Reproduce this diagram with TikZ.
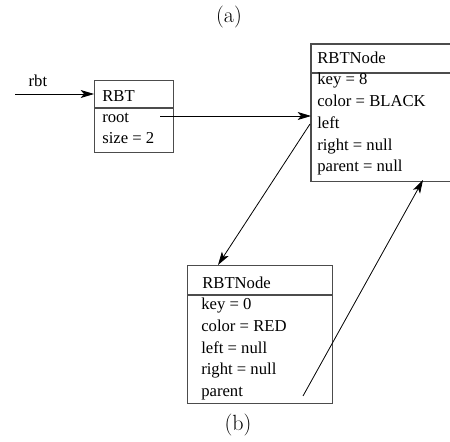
\documentclass[tikz,border=0pt]{standalone}
\usepackage{fontspec}
\newfontfamily\boxfont{Liberation Serif}
\usetikzlibrary{arrows.meta}

\tikzset{
    objbox/.style={draw=black!70, line width=1pt, anchor=north west, inner sep=0pt},
    boxline/.style={draw=black!70, line width=1pt},
    field/.style={anchor=base west, inner sep=0pt, font=\boxfont\fontsize{12.5}{15}\selectfont},
    ptr/.style={-{Stealth[length=10pt, width=6pt, inset=2.5pt]}, line width=0.6pt},
    caption/.style={font=\fontsize{16.5}{18}\selectfont}
}

\begin{document}
\begin{tikzpicture}[x=0.75pt, y=-0.75pt]
    \useasboundingbox (0,0) rectangle (450,442);

    % the captions
    \node[caption] (capa) at (229,17) {(a)};
    \node[caption] (capb) at (238,425) {(b)};

    % draw the boxes (the right side of the upper node runs off the page)
    \node[objbox, minimum width=79*0.75pt, minimum height=72*0.75pt] (rbt) at (94,80) {};
    \node[objbox, draw=none, minimum width=139*0.75pt, minimum height=136*0.75pt] (top) at (311,44) {};
    \node[objbox, minimum width=145*0.75pt, minimum height=138*0.75pt] (bot) at (187,265) {};
    \draw[boxline] (top.north east) -- (top.north west) -- (top.south west) -- (top.south east);
    \draw[boxline] (rbt.west |- 0,108) -- (rbt.east |- 0,108);
    \draw[boxline] (top.west |- 0,73) -- (top.east |- 0,73);
    \draw[boxline] (bot.west |- 0,295) -- (bot.east |- 0,295);

    % the fields of each box
    \node[field] (rbtname) at (102,102) {RBT};
    \node[field] (rbtroot) at (102,123) {root};
    \node[field] (rbtsize) at (102,144) {size = 2};

    \node[field] (topname) at (317,64) {RBTNode};
    \node[field] (topkey) at (317,85) {key = 8};
    \node[field] (topcolor) at (317,107) {color = BLACK};
    \node[field] (topleft) at (317,129) {left};
    \node[field] (topright) at (317,151) {right = null};
    \node[field] (topparent) at (317,172) {parent = null};

    \node[field] (botname) at (202,288) {RBTNode};
    \node[field] (botkey) at (201,309) {key = 0};
    \node[field] (botcolor) at (201,331) {color = RED};
    \node[field] (botleft) at (201,353) {left = null};
    \node[field] (botright) at (201,374) {right = null};
    \node[field] (botparent) at (201,396) {parent};

    % the ends of the pointers
    \coordinate (rbtvar) at (15,94);
    \coordinate (rootptr) at (160,116);
    \coordinate (leftptr) at (310,124);
    \coordinate (lefttip) at (218,265);
    \coordinate (parentptr) at (303,396);
    \coordinate (parenttip) at (423,180);

    % draw the arrows
    \draw[ptr] (rbtvar) -- node[field, pos=0.29, anchor=base, yshift=5.5pt] (rbtlabel) {rbt} (rbtvar -| rbt.west);
    \draw[ptr] (rootptr) -- (rootptr -| top.west);
    \draw[ptr] (leftptr) -- (lefttip);
    \draw[ptr] (parentptr) -- (parenttip);
\end{tikzpicture}
\end{document}
